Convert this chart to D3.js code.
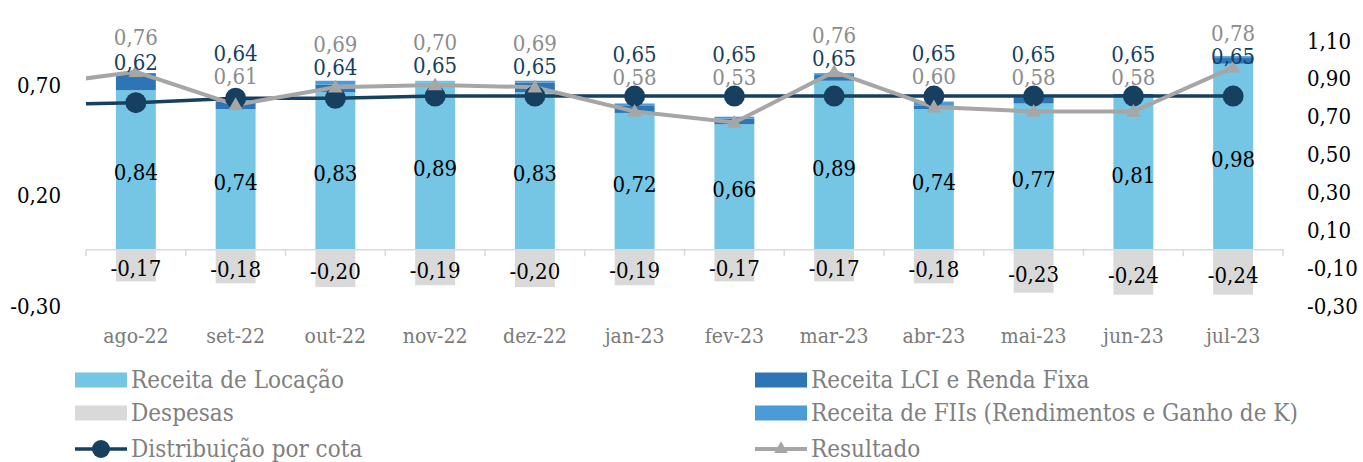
<!DOCTYPE html>
<html>
<head>
<meta charset="utf-8">
<script src="https://cdn.jsdelivr.net/npm/d3@7"></script>
<style>
  body { margin: 0; background: #fff; }
  svg text { font-family: 'DejaVu Serif Condensed', 'DejaVu Serif', serif; font-stretch: condensed; }
</style>
</head>
<body>
<script>
// Dados (R$/cota)
const months = ['ago-22', 'set-22', 'out-22', 'nov-22', 'dez-22', 'jan-23', 'fev-23', 'mar-23', 'abr-23', 'mai-23', 'jun-23', 'jul-23'];
const locacao = [0.84, 0.74, 0.83, 0.89, 0.83, 0.72, 0.66, 0.89, 0.74, 0.77, 0.81, 0.98];
const lci = [0.09, 0.04, 0.04, 0.00, 0.05, 0.04, 0.03, 0.03, 0.02, 0.03, 0.01, 0.03];
const fii = [0.00, 0.01, 0.02, 0.00, 0.01, 0.01, 0.01, 0.01, 0.02, 0.01, 0.00, 0.01];
const despesas = [-0.17, -0.18, -0.20, -0.19, -0.20, -0.19, -0.17, -0.17, -0.18, -0.23, -0.24, -0.24];
const distribuicao = [0.62, 0.64, 0.64, 0.65, 0.65, 0.65, 0.65, 0.65, 0.65, 0.65, 0.65, 0.65];
const resultado = [0.76, 0.61, 0.69, 0.70, 0.69, 0.58, 0.53, 0.76, 0.60, 0.58, 0.58, 0.78];
// mês anterior (fora do gráfico, só a ponta da linha aparece)
const distribAnterior = 0.61;
const resultadoAnterior = 0.70;
const leftTicks = [-0.30, 0.20, 0.70];
const rightTicks = [-0.30, -0.10, 0.10, 0.30, 0.50, 0.70, 0.90, 1.10];

const W = 1363, H = 462;
const plot = { left: 86, right: 1283, top: 41, bottom: 306 };

const cLoc = '#75C5E4', cLci = '#2E75B6', cFii = '#4A9BD6', cDesp = '#D9D9D9';
const cNavy = '#173F5F', cGray = '#A6A6A6', cGrayLbl = '#8C8C8C', cText = '#7F7F7F';

const locale = d3.formatLocale({ decimal: ',', thousands: '.', grouping: [3], currency: ['R$', ''], minus: '-' });
const fmt = locale.format('.2f');

const svg = d3.select('body').append('svg')
  .attr('width', W).attr('height', H);

const x = d3.scaleBand()
  .domain(months)
  .range([plot.left, plot.right])
  .paddingInner(0.6)
  .paddingOuter(0.3);
const cx = d => x(d) + x.bandwidth() / 2;

// eixo direito (barras) e eixo esquerdo (linhas)
const yR = d3.scaleLinear().domain([-0.30, 1.10]).range([plot.bottom, plot.top]);
const yL = d3.scaleLinear().domain([-0.30, 0.70]).range([plot.bottom, 85]);

// barras empilhadas
const rows = months.map((m, i) => ({ m, loc: locacao[i], lci: lci[i], fii: fii[i], desp: despesas[i] }));

svg.append('g').selectAll('rect.loc').data(rows).join('rect')
  .attr('x', d => x(d.m)).attr('width', x.bandwidth())
  .attr('y', d => yR(d.loc)).attr('height', d => yR(0) - yR(d.loc))
  .attr('fill', cLoc);
svg.append('g').selectAll('rect.lci').data(rows).join('rect')
  .attr('x', d => x(d.m)).attr('width', x.bandwidth())
  .attr('y', d => yR(d.loc + d.lci)).attr('height', d => yR(d.loc) - yR(d.loc + d.lci))
  .attr('fill', cLci);
svg.append('g').selectAll('rect.fii').data(rows).join('rect')
  .attr('x', d => x(d.m)).attr('width', x.bandwidth())
  .attr('y', d => yR(d.loc + d.lci + d.fii)).attr('height', d => yR(d.loc + d.lci) - yR(d.loc + d.lci + d.fii))
  .attr('fill', cFii);
svg.append('g').selectAll('rect.desp').data(rows).join('rect')
  .attr('x', d => x(d.m)).attr('width', x.bandwidth())
  .attr('y', yR(0)).attr('height', d => yR(d.desp) - yR(0))
  .attr('fill', cDesp);

// eixo x
const xAxis = svg.append('g')
  .attr('transform', `translate(0,${yR(0)})`)
  .call(d3.axisBottom(x).tickSize(0).tickFormat(''));
xAxis.select('.domain').attr('stroke', '#D9D9D9').attr('stroke-width', 1.5);
const bounds = months.map(m => x(m) - x.step() * x.paddingInner() / 2).concat([plot.right]);
bounds[0] = plot.left;
xAxis.selectAll('line.bound').data(bounds).join('line')
  .attr('x1', d => d).attr('x2', d => d).attr('y1', 0).attr('y2', 7)
  .attr('stroke', '#D9D9D9').attr('stroke-width', 1.5);

svg.append('g').selectAll('text').data(months).join('text')
  .attr('x', d => cx(d)).attr('y', 336).attr('dy', '0.35em')
  .attr('text-anchor', 'middle').attr('font-size', 21).attr('fill', '#7A7A7A')
  .text(d => d);

// eixos verticais (só rótulos)
const leftAxis = svg.append('g').attr('transform', `translate(${plot.left - 22},0)`)
  .call(d3.axisLeft(yL).tickValues(leftTicks).tickSize(0).tickFormat(fmt));
leftAxis.select('.domain').remove();
leftAxis.selectAll('text').attr('font-size', 22).attr('fill', '#000')
  .style('font-family', "'DejaVu Serif Condensed', 'DejaVu Serif', serif");

const rightAxis = svg.append('g').attr('transform', `translate(${plot.right + 21},0)`)
  .call(d3.axisRight(yR).tickValues(rightTicks).tickSize(0).tickFormat(fmt));
rightAxis.select('.domain').remove();
rightAxis.selectAll('text').attr('font-size', 22).attr('fill', '#000')
  .style('font-family', "'DejaVu Serif Condensed', 'DejaVu Serif', serif");

// linhas (recortadas na área do gráfico)
svg.append('clipPath').attr('id', 'clip').append('rect')
  .attr('x', plot.left).attr('y', 0).attr('width', plot.right - plot.left).attr('height', H);

const firstX = cx(months[0]) - x.step();
const distPts = [[firstX, distribAnterior]].concat(months.map((m, i) => [cx(m), distribuicao[i]]));
const resPts = [[firstX, resultadoAnterior]].concat(months.map((m, i) => [cx(m), resultado[i]]));
const line = d3.line().x(d => d[0]).y(d => yL(d[1]));

const lines = svg.append('g').attr('clip-path', 'url(#clip)');
lines.append('path').datum(distPts).attr('d', line)
  .attr('fill', 'none').attr('stroke', cNavy).attr('stroke-width', 3.5);
lines.append('path').datum(resPts).attr('d', line)
  .attr('fill', 'none').attr('stroke', cGray).attr('stroke-width', 4);

svg.append('g').selectAll('circle').data(months).join('circle')
  .attr('cx', d => cx(d)).attr('cy', (d, i) => yL(distribuicao[i])).attr('r', 10.5)
  .attr('fill', cNavy);
const tri = d3.symbol().type(d3.symbolTriangle).size(95);
svg.append('g').selectAll('path').data(months).join('path')
  .attr('transform', (d, i) => `translate(${cx(d)},${yL(resultado[i]) + 1})`)
  .attr('d', tri).attr('fill', cGray);

// rótulos de valores
const lbl = svg.append('g').attr('font-size', 22);
lbl.selectAll('text.loc').data(rows).join('text')
  .attr('x', d => cx(d.m)).attr('y', d => (yR(0) + yR(d.loc)) / 2 + 3).attr('dy', '0.35em')
  .attr('text-anchor', 'middle').attr('fill', '#000').text(d => fmt(d.loc));
lbl.selectAll('text.desp').data(rows).join('text')
  .attr('x', d => cx(d.m)).attr('y', d => (yR(0) + yR(d.desp)) / 2 + 3).attr('dy', '0.35em')
  .attr('text-anchor', 'middle').attr('fill', '#000').text(d => fmt(d.desp));

// rótulos das linhas: ambos acima dos marcadores, afastados entre si
months.forEach((m, i) => {
  const gap = 23;
  const floor = yL(distribuicao[i]) - 20;
  let yn = yL(distribuicao[i]) - 40;
  let yg = Math.min(yL(resultado[i]) - 34, floor);
  if (resultado[i] > distribuicao[i]) {
    if (yn - yg < gap) { const mid = (yn + yg) / 2; yg = mid - gap / 2; yn = mid + gap / 2; }
  } else {
    if (yg - yn < gap) { const mid = (yn + yg) / 2; yn = mid - gap / 2; yg = mid + gap / 2; }
  }
  lbl.append('text').attr('x', cx(m)).attr('y', yg).attr('dy', '0.35em')
    .attr('text-anchor', 'middle').attr('fill', cGrayLbl).text(fmt(resultado[i]));
  lbl.append('text').attr('x', cx(m)).attr('y', yn).attr('dy', '0.35em')
    .attr('text-anchor', 'middle').attr('fill', cNavy).text(fmt(distribuicao[i]));
});

// legenda
const legend = [
  { name: 'Receita de Locação', type: 'rect', color: cLoc, col: 0, row: 0 },
  { name: 'Receita LCI e Renda Fixa', type: 'rect', color: cLci, col: 1, row: 0 },
  { name: 'Despesas', type: 'rect', color: cDesp, col: 0, row: 1 },
  { name: 'Receita de FIIs (Rendimentos e Ganho de K)', type: 'rect', color: cFii, col: 1, row: 1 },
  { name: 'Distribuição por cota', type: 'circle', color: cNavy, col: 0, row: 2 },
  { name: 'Resultado', type: 'triangle', color: cGray, col: 1, row: 2 }
];
const colX = [75, 755], rowY = [380, 413, 449];
const lg = svg.append('g');
legend.forEach(d => {
  const g = lg.append('g').attr('transform', `translate(${colX[d.col]},${rowY[d.row]})`);
  if (d.type === 'rect') {
    g.append('rect').attr('x', 0).attr('y', -7.5).attr('width', 52).attr('height', 15).attr('fill', d.color);
  } else {
    g.append('line').attr('x1', 0).attr('x2', 52).attr('y1', 0).attr('y2', 0)
      .attr('stroke', d.color).attr('stroke-width', d.type === 'circle' ? 3.5 : 4);
    if (d.type === 'circle') g.append('circle').attr('cx', 26).attr('r', 9).attr('fill', d.color);
    else g.append('path').attr('transform', 'translate(26,0)').attr('d', d3.symbol().type(d3.symbolTriangle).size(80)).attr('fill', d.color);
  }
  g.append('text').attr('x', 56).attr('y', 0).attr('dy', '0.35em')
    .attr('font-size', 24).attr('fill', cText).text(d.name);
});
</script>
</body>
</html>
